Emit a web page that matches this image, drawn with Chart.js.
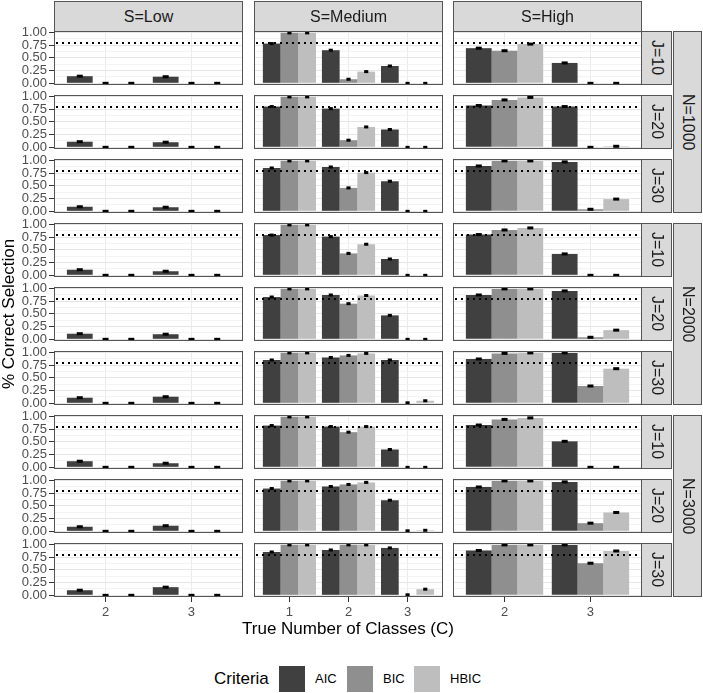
<!DOCTYPE html>
<html>
<head>
<meta charset="utf-8">
<script src="https://cdn.jsdelivr.net/npm/chart.js@4/dist/chart.umd.min.js"></script>
<style>
body { margin: 0; background: #fff; }
#fig { position: relative; width: 703px; height: 693px; overflow: hidden; font-family: "Liberation Sans", Arial, sans-serif; }
#fig canvas { position: absolute; }
.strip { position: absolute; box-sizing: border-box; background: #d9d9d9; border: 1px solid #555; color: #1a1a1a; font-size: 16px; display: flex; align-items: center; justify-content: center; }
.vert { writing-mode: vertical-rl; }
.txt { position: absolute; color: #000; white-space: nowrap; }
.key { position: absolute; width: 26px; height: 26px; }
</style>
</head>
<body>
<div id="fig"></div>
<script>
// facets
const S_LEVELS = ['Low', 'Medium', 'High'];
const N_LEVELS = [1000, 2000, 3000];
const J_LEVELS = [10, 20, 30];
const CRITERIA = ['AIC', 'BIC', 'HBIC'];
const COLORS = ['#404040', '#8f8f8f', '#bebebe'];

// true number of classes shown per S level
const CLASSES_LOW = [2, 3];
const CLASSES_MEDIUM = [1, 2, 3];
const CLASSES_HIGH = [2, 3];

const Y_TICKS = [0, 0.125, 0.25, 0.375, 0.5, 0.625, 0.75, 0.875, 1];
const CUTOFF = 0.8;

// rows: N=1000 J=10,20,30 / N=2000 J=10,20,30 / N=3000 J=10,20,30
const AIC_LOW = [[0.14, 0.13], [0.11, 0.10], [0.09, 0.08], [0.11, 0.08], [0.11, 0.10], [0.11, 0.13], [0.12, 0.08], [0.09, 0.11], [0.10, 0.16]];
const BIC_LOW = [[0, 0], [0, 0], [0, 0], [0, 0], [0, 0], [0, 0], [0, 0], [0, 0], [0, 0]];
const HBIC_LOW = [[0, 0], [0, 0], [0, 0], [0, 0], [0, 0], [0, 0], [0, 0], [0, 0], [0, 0]];

const AIC_MEDIUM = [[0.78, 0.65, 0.34], [0.80, 0.76, 0.35], [0.85, 0.87, 0.59], [0.79, 0.76, 0.32], [0.83, 0.87, 0.47], [0.85, 0.90, 0.85], [0.82, 0.80, 0.35], [0.84, 0.88, 0.61], [0.85, 0.89, 0.93]];
const BIC_MEDIUM = [[0.99, 0.08, 0], [0.99, 0.14, 0], [0.99, 0.46, 0], [0.99, 0.43, 0], [0.99, 0.70, 0], [0.99, 0.94, 0.01], [0.99, 0.69, 0], [0.99, 0.92, 0.01], [0.99, 0.99, 0.01]];
const HBIC_MEDIUM = [[0.99, 0.23, 0], [0.99, 0.40, 0], [0.99, 0.76, 0], [0.99, 0.61, 0], [0.99, 0.86, 0], [0.99, 0.98, 0.05], [0.99, 0.80, 0], [0.99, 0.96, 0.02], [0.99, 0.99, 0.12]];

const AIC_HIGH = [[0.69, 0.40], [0.82, 0.80], [0.89, 0.97], [0.80, 0.42], [0.87, 0.95], [0.87, 0.99], [0.83, 0.51], [0.87, 0.97], [0.88, 0.99]];
const BIC_HIGH = [[0.64, 0], [0.93, 0], [0.99, 0.04], [0.89, 0], [0.99, 0.04], [0.98, 0.34], [0.94, 0], [0.99, 0.16], [0.99, 0.63]];
const HBIC_HIGH = [[0.77, 0], [0.98, 0.02], [0.99, 0.24], [0.93, 0], [0.99, 0.18], [0.99, 0.68], [0.97, 0], [0.99, 0.37], [0.99, 0.87]];

const PANELS = {
    Low: {classes: CLASSES_LOW, values: [AIC_LOW, BIC_LOW, HBIC_LOW]},
    Medium: {classes: CLASSES_MEDIUM, values: [AIC_MEDIUM, BIC_MEDIUM, HBIC_MEDIUM]},
    High: {classes: CLASSES_HIGH, values: [AIC_HIGH, BIC_HIGH, HBIC_HIGH]},
};

// layout (px)
const PANEL_LEFT = [54, 254, 453];
const PANEL_W = 189;
const PANEL_H = 54;
const TOP0 = 31;
const ROW_STEP = 64;
const M = 10;
const X_AXIS_H = 30;

Chart.defaults.font.family = '"Liberation Sans", Arial, sans-serif';
Chart.defaults.color = '#4d4d4d';

const fig = document.getElementById('fig');

function isMajor(v) {
    return Math.abs(v * 4 - Math.round(v * 4)) < 1e-6;
}

const panelDecor = {
    id: 'panelDecor',
    afterDatasetsDraw(chart) {
        const {ctx, chartArea: a, scales: {x, y}} = chart;
        ctx.save();
        // error bars (very narrow intervals)
        const half = (x.getPixelForValue(1) - x.getPixelForValue(0)) * 0.035;
        ctx.fillStyle = '#000';
        chart.data.datasets.forEach((ds, i) => {
            chart.getDatasetMeta(i).data.forEach(bar => {
                ctx.fillRect(bar.x - half, bar.y - 1.5, half * 2, 3);
            });
        });
        // dotted reference line
        const yc = Math.round(y.getPixelForValue(CUTOFF));
        ctx.strokeStyle = '#000';
        ctx.lineWidth = 2;
        ctx.setLineDash([2, 4]);
        ctx.beginPath();
        ctx.moveTo(a.left + 2, yc);
        ctx.lineTo(a.right, yc);
        ctx.stroke();
        ctx.setLineDash([]);
        // panel border
        ctx.strokeStyle = '#555';
        ctx.lineWidth = 1;
        ctx.strokeRect(a.left + 0.5, a.top + 0.5, a.width - 1, a.height - 1);
        ctx.restore();
    }
};

function makePanel(r, c) {
    const s = S_LEVELS[c];
    const p = PANELS[s];
    const first = c === 0;
    const last = r === N_LEVELS.length * J_LEVELS.length - 1;
    const top = TOP0 + r * ROW_STEP;
    const cx = first ? 0 : PANEL_LEFT[c] - 3;
    const w = PANEL_LEFT[c] + PANEL_W + 3 - cx;
    const h = M + PANEL_H + (last ? X_AXIS_H : M);

    const canvas = document.createElement('canvas');
    canvas.width = w;
    canvas.height = h;
    canvas.style.left = cx + 'px';
    canvas.style.top = (top - M) + 'px';
    fig.appendChild(canvas);

    const datasets = CRITERIA.map((name, d) => ({
        label: name,
        data: p.classes.map((k, i) => ({x: k, y: p.values[d][r][i]})),
        backgroundColor: COLORS[d],
        borderWidth: 0,
        barPercentage: 1,
        categoryPercentage: 0.9,
    }));

    return new Chart(canvas, {
        type: 'bar',
        data: {datasets},
        options: {
            responsive: false,
            animation: false,
            events: [],
            devicePixelRatio: 1,
            layout: {padding: {left: first ? 0 : 3, right: 3, top: M, bottom: last ? 0 : M}},
            plugins: {legend: {display: false}, tooltip: {enabled: false}},
            scales: {
                x: {
                    type: 'linear',
                    offset: false,
                    min: p.classes[0] - 0.6,
                    max: p.classes[p.classes.length - 1] + 0.6,
                    afterBuildTicks: sc => { sc.ticks = p.classes.map(v => ({value: v})); },
                    afterFit: sc => { sc.height = last ? X_AXIS_H : 0; },
                    border: {display: false},
                    grid: {offset: false, color: '#ebebeb', lineWidth: 1, drawTicks: last, tickLength: 5, tickColor: '#333'},
                    ticks: {display: last, autoSkip: false, maxRotation: 0, padding: 3, font: {size: 13}, color: '#4d4d4d',
                        callback: v => String(v)},
                },
                y: {
                    min: -0.033,
                    max: 1.027,
                    afterBuildTicks: sc => { sc.ticks = Y_TICKS.map(v => ({value: v})); },
                    afterFit: sc => { sc.width = first ? PANEL_LEFT[0] : 0; },
                    border: {display: false},
                    grid: {
                        color: ctx => isMajor(ctx.tick.value) ? '#e6e6e6' : '#f3f3f3',
                        lineWidth: 1,
                        drawTicks: first,
                        tickLength: 5,
                        tickColor: ctx => isMajor(ctx.tick.value) ? '#333' : 'rgba(0,0,0,0)',
                    },
                    ticks: {display: first, autoSkip: false, padding: 2, font: {size: 13}, color: '#4d4d4d',
                        callback: v => isMajor(v) ? v.toFixed(2) : ''},
                },
            },
        },
        plugins: [panelDecor],
    });
}

const nRows = N_LEVELS.length * J_LEVELS.length;
for (let r = 0; r < nRows; r++) {
    for (let c = 0; c < S_LEVELS.length; c++) {
        makePanel(r, c);
    }
}

function addDiv(cls, text, css) {
    const d = document.createElement('div');
    d.className = cls;
    d.textContent = text;
    Object.assign(d.style, css);
    fig.appendChild(d);
    return d;
}

// column strips
S_LEVELS.forEach((s, c) => {
    addDiv('strip', 'S=' + s, {left: PANEL_LEFT[c] + 'px', top: '1px', width: PANEL_W + 'px', height: '31px'});
});

// row strips
const stripX = PANEL_LEFT[2] + PANEL_W - 1;
for (let r = 0; r < nRows; r++) {
    const j = J_LEVELS[r % J_LEVELS.length];
    addDiv('strip vert', 'J=' + j, {left: stripX + 'px', top: (TOP0 + r * ROW_STEP) + 'px', width: '31px', height: PANEL_H + 'px'});
}
N_LEVELS.forEach((n, g) => {
    const t = TOP0 + g * J_LEVELS.length * ROW_STEP;
    const hgt = (J_LEVELS.length - 1) * ROW_STEP + PANEL_H;
    addDiv('strip vert', 'N=' + n, {left: (stripX + 32) + 'px', top: t + 'px', width: '29px', height: hgt + 'px'});
});

// axis titles
addDiv('txt', 'True Number of Classes (C)', {left: PANEL_LEFT[0] + 'px', width: (PANEL_LEFT[2] + PANEL_W - PANEL_LEFT[0]) + 'px',
    top: '620px', lineHeight: '18px', fontSize: '17px', textAlign: 'center'});
addDiv('txt', '% Correct Selection', {left: '0px', top: TOP0 + 'px', width: '18px',
    height: ((nRows - 1) * ROW_STEP + PANEL_H) + 'px', fontSize: '17px', writingMode: 'vertical-rl',
    transform: 'rotate(180deg)', display: 'flex', alignItems: 'center', justifyContent: 'center'});

// legend
addDiv('txt', 'Criteria', {left: '214px', top: '669px', lineHeight: '20px', fontSize: '17px'});
const KEY_X = [279, 347, 414];
CRITERIA.forEach((name, d) => {
    addDiv('key', '', {left: KEY_X[d] + 'px', top: '666px', background: COLORS[d]});
    addDiv('txt', name, {left: (KEY_X[d] + 36) + 'px', top: '671px', lineHeight: '16px', fontSize: '13px', color: '#000'});
});
</script>
</body>
</html>
